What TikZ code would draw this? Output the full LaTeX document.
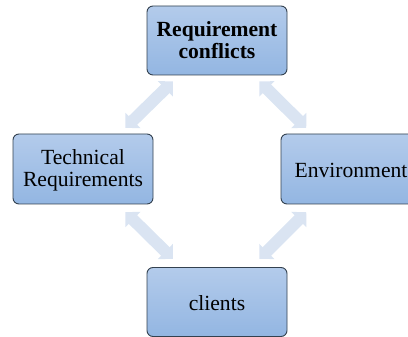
\documentclass[tikz,border=0pt]{standalone}
\usepackage{fontspec}
\setmainfont{Liberation Serif}
\usetikzlibrary{arrows.meta}
\definecolor{boxtop}{HTML}{B3CBEB}
\definecolor{boxbot}{HTML}{93B6E2}
\definecolor{boxline}{HTML}{33414F}
\definecolor{arrowfill}{HTML}{DAE4F2}
\begin{document}
\begin{tikzpicture}[x=1pt,y=1pt,
  box/.style={draw=boxline, line width=0.9pt, rounded corners=6pt,
    top color=boxtop, bottom color=boxbot,
    minimum width=140pt, minimum height=69pt, inner sep=0pt,
    align=center, font=\fontsize{21.6}{22}\selectfont},
  conn/.style={draw=arrowfill, line width=12pt,
    {Triangle[width=21pt,length=10.5pt,fill=arrowfill,color=arrowfill]}-{Triangle[width=21pt,length=10.5pt,fill=arrowfill,color=arrowfill]}}]
\useasboundingbox (0,0) rectangle (408,337);
\clip (0,0) rectangle (408,337);
\node[box] (top) at (217,296.5) {\textbf{Requirement}\\\textbf{conflicts}};
\node[box, minimum height=70pt] (left) at (83,168) {\rule{0pt}{18pt}Technical\\Requirements};
\node[box, minimum height=70pt, text height=18pt, text depth=0pt] (right) at (351,168) {Environment};
\node[box, text height=17pt, text depth=0pt] (bottom) at (217,35) {clients};
\draw[conn] ([shift={(26.3pt,-6pt)}]top.south west) -- ([shift={(-28pt,5.7pt)}]left.north east);
\draw[conn] ([shift={(-28pt,-6pt)}]top.south east) -- ([shift={(25.7pt,5.7pt)}]right.north west);
\draw[conn] ([shift={(-28pt,-7.7pt)}]left.south east) -- ([shift={(26.3pt,8.2pt)}]bottom.north west);
\draw[conn] ([shift={(25.7pt,-7.7pt)}]right.south west) -- ([shift={(-28pt,8.2pt)}]bottom.north east);
\end{tikzpicture}
\end{document}
